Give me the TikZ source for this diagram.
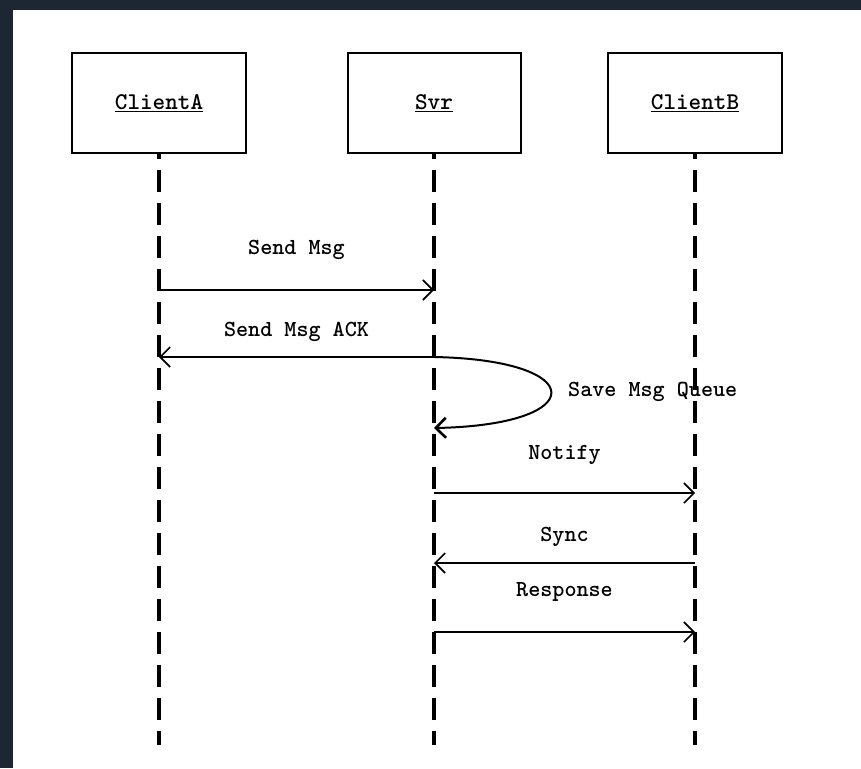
\documentclass[tikz,border=0pt]{standalone}
\usepackage{fontspec}
\usepackage{tikz}
\usetikzlibrary{arrows.meta}
\definecolor{framecol}{HTML}{1C2733}
\tikzstyle{actor}=[draw=black,line width=2pt,minimum width=174pt,minimum height=99pt,inner sep=0pt,font=\ttfamily\bfseries\fontsize{24}{24}\selectfont]
\tikzstyle{lifeline}=[line width=3.6pt,dash pattern=on 22pt off 11pt,dash phase=17pt]
\tikzstyle{msg}=[line width=2pt,-{Straight Barb[length=10pt,width=20pt,line width=1.6pt]}]
\tikzstyle{lbl}=[inner sep=0pt,font=\ttfamily\bfseries\fontsize{23}{23}\selectfont]

\begin{document}
\begin{tikzpicture}[x=1pt,y=-1pt]
      % frame
      \useasboundingbox (0,0) rectangle (861,768);
      \fill[framecol] (0,0) rectangle (861,768);
      \fill[white] (13,10) rectangle (861,768);

      \node[actor] (A) at (159,103) {\underline{ClientA}};
      \node[actor,minimum width=173pt] (S) at (434,103) {\underline{Svr}};
      \node[actor] (B) at (695,103) {\underline{ClientB}};

      \foreach \u in {A,S,B}{
        \coordinate (\u end) at (\u |- 0,745);
        \draw[lifeline] (\u.south) -- (\u end);
      }

      \foreach \f/\t/\y/\d/\txt in {A/S/290/40/Send Msg, S/A/357/25/Send Msg ACK,
          S/B/493/38/Notify, B/S/563/26/Sync, S/B/632/40/Response}{
        \draw[msg] (\f |- 0,\y) -- (\t |- 0,\y) node[lbl,midway,yshift=\d pt] {\txt};
      }

      % self message
      \draw[msg,-{Straight Barb[length=10pt,width=20pt,line width=2.6pt]}] (S |- 0,357) .. controls (590,360) and (590,425) .. (S |- 0,428);
      \node[lbl,anchor=west] (q) at (568,392) {Save Msg Queue};
    \end{tikzpicture}
\end{document}
